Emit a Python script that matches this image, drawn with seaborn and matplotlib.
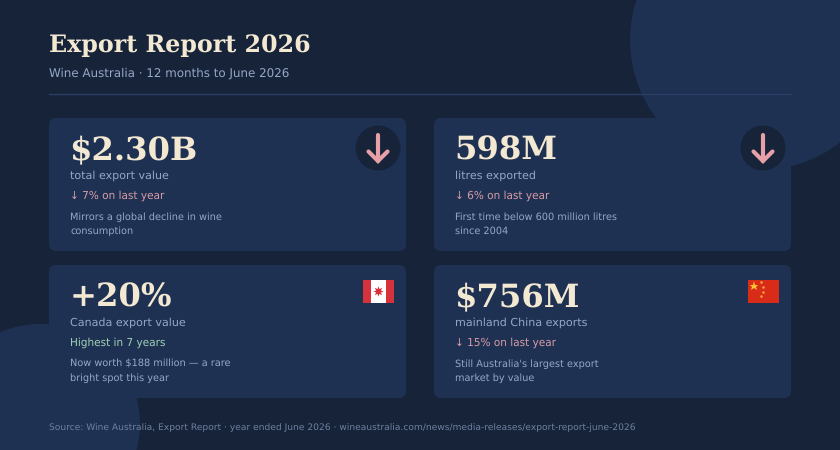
"""Wine Australia export report card layout."""
import matplotlib
matplotlib.use("Agg")
import matplotlib.pyplot as plt
from matplotlib.patches import Circle, FancyBboxPatch, Rectangle
import seaborn as sns

BG = "#162338"
CARD = "#1e3153"
CREAM = "#f3e8d2"
MUTED = "#96a8c8"
PINK = "#e8a0a8"
CHANGE_PINK = "#d99ca6"
GREEN = "#a0d2b4"

title = "Export Report 2026"
subtitle = "Wine Australia · 12 months to June 2026"
source = "Source: Wine Australia, Export Report · year ended June 2026 · wineaustralia.com/news/media-releases/export-report-june-2026"

values = ["$2.30B", "598M", "+20%", "$756M"]
labels = ["total export value", "litres exported", "Canada export value", "mainland China exports"]
changes = ["↓ 7% on last year", "↓ 6% on last year", "Highest in 7 years", "↓ 15% on last year"]
change_colors = [CHANGE_PINK, CHANGE_PINK, GREEN, CHANGE_PINK]
notes = [
    ["Mirrors a global decline in wine", "consumption"],
    ["First time below 600 million litres", "since 2004"],
    ["Now worth $188 million — a rare", "bright spot this year"],
    ["Still Australia's largest export", "market by value"],
]
card_x = [49, 434, 49, 434]
card_y = [118, 118, 265, 265]
icons = ["down", "down", "canada", "china"]

sns.set_theme(style="white", rc={"figure.facecolor": BG, "axes.facecolor": BG, "text.hinting": "no_hinting"})

fig = plt.figure(figsize=(8.4, 4.5), dpi=100)
ax = fig.add_axes([0, 0, 1, 1])
ax.set_xlim(0, 840)
ax.set_ylim(450, 0)
ax.axis("off")

# background blobs
ax.add_patch(Circle((760, 40), 130, fc=CARD, ec="none", zorder=1))
ax.add_patch(Circle((40, 424), 100, fc=CARD, ec="none", zorder=1))

# header
ax.text(49, 52, title, family="DejaVu Serif", weight="bold", fontsize=17.1, color=CREAM, va="baseline", zorder=5)
ax.text(49, 77, subtitle, fontsize=8.6, color=MUTED, va="baseline", zorder=5)
ax.plot([49, 791], [93.5, 93.5], color="#2a3f63", lw=1, zorder=3)


def draw_arrow(cx):
    ax.add_patch(Circle((cx, 148), 22.5, fc=BG, ec="none", zorder=4))
    ax.plot([cx, cx], [135, 161], color=PINK, lw=3, solid_capstyle="round", zorder=5)
    ax.plot([cx - 9.5, cx, cx + 9.5], [151.5, 161, 151.5], color=PINK, lw=3,
            solid_capstyle="round", solid_joinstyle="miter", zorder=5)


def draw_canada():
    ax.add_patch(Rectangle((362.5, 280), 31, 23, fc="#d6323c", ec="none", zorder=4))
    ax.add_patch(Rectangle((370.5, 280), 15, 23, fc="#ffffff", ec="none", zorder=5))
    ax.plot([378], [291], marker=(8, 1, 0), ms=7.5, color="#d6323c", mew=0, zorder=6)


def draw_china():
    ax.add_patch(Rectangle((747.5, 280), 31, 23, fc="#d92c18", ec="none", zorder=4))
    ax.plot([753.5], [285.5], marker="*", ms=6.5, color="#fbc531", mew=0, zorder=5)
    ax.plot([761, 763, 763, 761], [282, 286.5, 292, 296], ls="none", marker="o", ms=1.8,
            color="#f5a63a", mew=0, zorder=5)


for i, value in enumerate(values):
    x, y = card_x[i], card_y[i]
    ax.add_patch(FancyBboxPatch((x + 7, y + 7), 343, 119, boxstyle="round,pad=7,rounding_size=7",
                                fc=CARD, ec="none", zorder=2))
    tx = x + 21
    ax.text(tx - 0.7, y + 42, value, family="DejaVu Serif", weight="bold", fontsize=23.2, color=CREAM,
            va="baseline", zorder=5)
    ax.text(tx, y + 61, labels[i], fontsize=8.05, color=MUTED, va="baseline", zorder=5)
    ax.text(tx, y + 81, changes[i], fontsize=7.6, color=change_colors[i], va="baseline", zorder=5)
    for j, line in enumerate(notes[i]):
        ax.text(tx, y + 101.5 + j * 14.5, line, fontsize=7.05, color=MUTED, va="baseline", zorder=5)
    if icons[i] == "down":
        draw_arrow(x + 329)
    elif icons[i] == "canada":
        draw_canada()
    else:
        draw_china()

ax.text(49, 430, source, fontsize=6.58, color="#6f80a0", va="baseline", zorder=5)

fig.savefig("out.png", dpi=100, facecolor=BG)
